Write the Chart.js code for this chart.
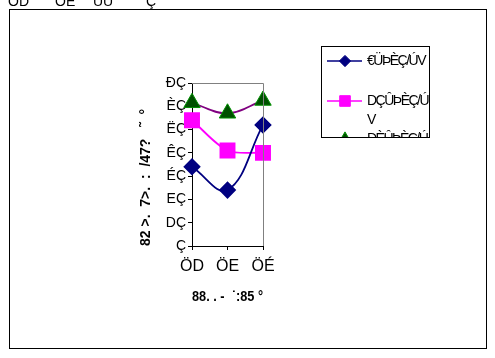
<!DOCTYPE html>
<html>
<head>
<meta charset="utf-8">
<script src="https://cdn.jsdelivr.net/npm/chart.js@4/dist/chart.umd.min.js"></script>
<style>
  html, body { margin: 0; padding: 0; background: #fff; }
  #wrap { position: relative; width: 495px; height: 358px; }
</style>
</head>
<body>
<div id="wrap"><canvas id="chart" width="495" height="358"></canvas></div>
<script>
'use strict';
// ---- data ----
const categories = ['ÖD', 'ÖE', 'ÖÉ'];
const tickLabels = ['Ç', 'DÇ', 'EÇ', 'ÉÇ', 'ÊÇ', 'ËÇ', 'ÈÇ', 'ÐÇ'];   // 0..70
const seriesNames = ['€ÜÞÈÇ/ÚV', 'DÇÛÞÈÇ/Ú V', 'DÈÛÞÈÇ/Ú V'];
const seriesA = [34, 24, 52];
const seriesB = [54, 41, 40];
const seriesC = [61.5, 57, 62.5];
const yTitle = '82 >.  7>.  :  /47?   ˜  °';
const xTitle = '88. . -  ˙:85 °';

const FONT = '"Liberation Sans", Arial, sans-serif';

// frame, plot border, clipped top text and legend box
const decor = {
  id: 'decor',
  afterDraw(chart) {
    const ctx = chart.ctx, a = chart.chartArea;
    ctx.save();
    ctx.strokeStyle = '#000'; ctx.lineWidth = 1;
    ctx.strokeRect(9.5, 9.5, 477, 339);
    // plot top/right border
    ctx.strokeStyle = '#808080';
    ctx.beginPath();
    ctx.moveTo(a.left, a.top + 0.5); ctx.lineTo(a.right + 0.5, a.top + 0.5); ctx.lineTo(a.right + 0.5, a.bottom);
    ctx.stroke();
    // clipped title remnants at top
    ctx.fillStyle = '#000';
    ctx.font = '14px ' + FONT;
    ctx.textBaseline = 'alphabetic';
    ctx.save();
    ctx.beginPath(); ctx.rect(0, 0, 495, 9); ctx.clip();
    ctx.fillText('ÖD', 8, 6);
    ctx.fillText('ÓÉ', 55, 6);
    ctx.fillText('ÛÛ', 93, 6);
    ctx.fillText('Ç', 146, 6);
    ctx.restore();

    // legend
    const box = { x: 321, y: 46, w: 108, h: 91 };
    ctx.strokeStyle = '#000';
    ctx.strokeRect(box.x + 0.5, box.y + 0.5, box.w, box.h);
    ctx.save();
    ctx.beginPath(); ctx.rect(box.x + 1, box.y + 1, box.w - 1, box.h - 1); ctx.clip();
    const rows = [61, 101, 139];
    chart.data.datasets.forEach((ds, i) => {
      const y = rows[i];
      ctx.strokeStyle = ds.borderColor; ctx.lineWidth = 1.5;
      ctx.beginPath(); ctx.moveTo(327, y); ctx.lineTo(362, y); ctx.stroke();
      ctx.fillStyle = ds.pointBackgroundColor;
      ctx.strokeStyle = ds.pointBorderColor;
      ctx.lineWidth = 1;
      Chart.helpers.drawPoint(ctx, {
        pointStyle: ds.pointStyle, radius: ds.pointRadius * 0.75, borderWidth: 1, rotation: 0
      }, 345, y);
      ctx.fillStyle = '#000';
      ctx.font = '14px ' + FONT;
      ctx.letterSpacing = '-1.5px';
      ctx.textBaseline = 'middle';
      const parts = ds.label.split(' ');
      parts.forEach((p, k) => ctx.fillText(p, 367, y + k * 19));
      ctx.letterSpacing = '0px';
    });
    ctx.restore();
    ctx.restore();
  }
};

new Chart(document.getElementById('chart'), {
  type: 'line',
  data: {
    labels: categories,
    datasets: [
      { label: seriesNames[0], data: seriesA, borderColor: '#000080', borderWidth: 1.8,
        pointStyle: 'rectRot', pointRadius: 7.5, pointBackgroundColor: '#000080', pointBorderColor: '#000080',
        tension: 0.4 },
      { label: seriesNames[1], data: seriesB, borderColor: '#FF00FF', borderWidth: 1.8,
        pointStyle: 'rect', pointRadius: 10, pointBackgroundColor: '#FF00FF', pointBorderColor: '#FF00FF',
        tension: 0.3 },
      { label: seriesNames[2], data: seriesC, borderColor: '#800080', borderWidth: 1.8,
        pointStyle: 'triangle', pointRadius: 9.5, pointBackgroundColor: '#005000', pointBorderColor: '#009000',
        pointBorderWidth: 1, tension: 0.4 }
    ]
  },
  options: {
    responsive: false,
    animation: false,
    layout: { padding: { left: 138, right: 232, top: 83, bottom: 52 } },
    plugins: { legend: { display: false }, tooltip: { enabled: false } },
    scales: {
      x: {
        offset: false,
        afterFit: s => { s.height = 60; },
        border: { color: '#000', width: 1 },
        grid: { drawOnChartArea: false, drawTicks: true, tickLength: 4, color: '#000' },
        ticks: { color: '#000', padding: 7, maxRotation: 0, font: { family: FONT, size: 16 } },
        title: { display: true, text: xTitle, color: '#000', padding: 0,
                 font: { family: FONT, size: 14, weight: 'bold' } }
      },
      y: {
        min: 0, max: 70,
        afterFit: s => { s.width = 54; },
        border: { color: '#000', width: 1 },
        grid: { drawOnChartArea: false, drawTicks: true, tickLength: 4, color: '#000' },
        ticks: { stepSize: 10, color: '#000', padding: 2, font: { family: FONT, size: 14 },
                 callback: v => tickLabels[Math.round(v / 10)] },
        title: { display: true, text: yTitle, color: '#000', padding: 0, align: 'start',
                 font: { family: FONT, size: 14, weight: 'bold' } }
      }
    }
  },
  plugins: [decor]
});
</script>
</body>
</html>
